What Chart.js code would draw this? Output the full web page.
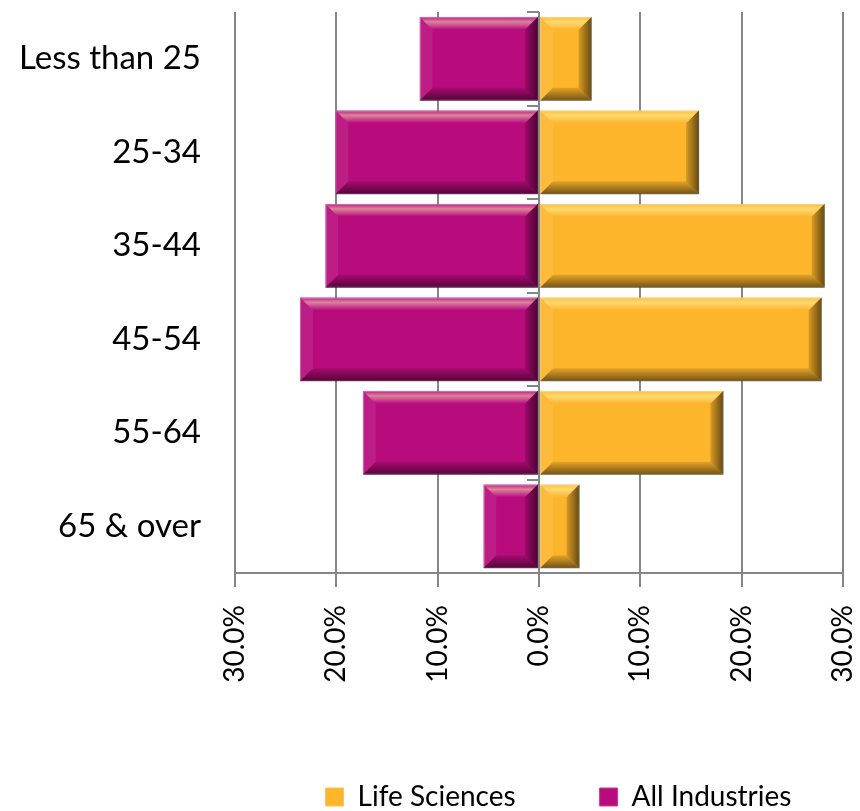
<!DOCTYPE html>
<html>
<head>
<meta charset="utf-8">
<script src="https://cdn.jsdelivr.net/npm/chart.js@4"></script>
<style>
  html, body { margin: 0; padding: 0; background: #fff; }
  #wrap { width: 860px; height: 811px; }
</style>
</head>
<body>
<div id="wrap"><canvas id="myChart" width="860" height="811"></canvas></div>
<script>
const ctx = document.getElementById('myChart');

const ageGroups = ['Less than 25', '25-34', '35-44', '45-54', '55-64', '65 & over'];
const lifeSciences = [5.2, 15.8, 28.2, 27.9, 18.2, 4.0];
const allIndustries = [-11.8, -20.1, -21.1, -23.6, -17.4, -5.5];
const xTicks = [-30, -20, -10, 0, 10, 20, 30];

const FONT = 'Lato, "Liberation Sans", sans-serif';

// fake the excel bevel on each bar
const bevel = {
  id: 'bevel',
  afterDatasetsDraw(chart) {
    const c = chart.ctx;
    chart.data.datasets.forEach((ds, i) => {
      chart.getDatasetMeta(i).data.forEach(bar => {
        const p = bar.getProps(['x', 'y', 'base', 'height'], true);
        const l = Math.min(p.x, p.base), r = Math.max(p.x, p.base);
        const t = p.y - p.height / 2, b = p.y + p.height / 2;
        const d = Math.min(13, (r - l) / 2, p.height / 2);
        const poly = (pts, fill) => {
          c.beginPath();
          c.moveTo(pts[0][0], pts[0][1]);
          pts.slice(1).forEach(q => c.lineTo(q[0], q[1]));
          c.closePath();
          c.fillStyle = fill;
          c.fill();
        };
        c.save();
        let g = c.createLinearGradient(0, t, 0, t + d);
        g.addColorStop(0, 'rgba(255,255,255,0.05)');
        g.addColorStop(0.4, 'rgba(255,255,160,0.5)');
        g.addColorStop(1, 'rgba(255,255,255,0.0)');
        poly([[l, t], [r, t], [r - d, t + d], [l + d, t + d]], g);
        g = c.createLinearGradient(0, b - d, 0, b);
        g.addColorStop(0, 'rgba(0,0,0,0.1)');
        g.addColorStop(1, 'rgba(0,0,0,0.55)');
        poly([[l, b], [r, b], [r - d, b - d], [l + d, b - d]], g);
        g = c.createLinearGradient(r - d, 0, r, 0);
        g.addColorStop(0, 'rgba(0,0,0,0.15)');
        g.addColorStop(1, 'rgba(0,0,0,0.6)');
        poly([[r, t], [r, b], [r - d, b - d], [r - d, t + d]], g);
        poly([[l, t], [l, b], [l + d, b - d], [l + d, t + d]], 'rgba(255,255,255,0.08)');
        c.restore();
      });
    });
  }
};

// little tick marks on the zero line between categories
const zeroTicks = {
  id: 'zeroTicks',
  afterDatasetsDraw(chart) {
    const c = chart.ctx;
    const xs = chart.scales.x, ys = chart.scales.y;
    const x0 = xs.getPixelForValue(0);
    const half = (ys.getPixelForValue(1) - ys.getPixelForValue(0)) / 2;
    c.save();
    c.strokeStyle = '#868686';
    c.lineWidth = 2;
    for (let i = 0; i <= ageGroups.length; i++) {
      const y = Math.round(ys.getPixelForValue(i) - half);
      c.beginPath();
      c.moveTo(x0 - 12, y);
      c.lineTo(x0, y);
      c.stroke();
    }
    c.restore();
  }
};

// push the legend right and down like in the original
const legendShift = {
  id: 'legendShift',
  afterLayout(chart) {
    const lg = chart.legend;
    lg.left += 137;
    lg.right += 137;
    lg.top += 14;
    lg.bottom += 14;
  }
};

const noPad = function(scale) {
  scale.paddingLeft = 0;
  scale.paddingRight = 0;
  scale.paddingTop = 0;
  scale.paddingBottom = 0;
};

new Chart(ctx, {
  type: 'bar',
  data: {
    labels: ageGroups,
    datasets: [{
      label: 'Life Sciences',
      data: lifeSciences,
      backgroundColor: '#FDB52B',
      borderColor: '#F6C45A',
      borderWidth: 1,
      borderSkipped: false
    }, {
      label: 'All Industries',
      data: allIndustries,
      backgroundColor: '#B80B7C',
      borderColor: '#CC3A98',
      borderWidth: 1,
      borderSkipped: false
    }]
  },
  options: {
    indexAxis: 'y',
    responsive: false,
    animation: false,
    datasets: {
      bar: { barPercentage: 0.9, categoryPercentage: 1.0 }
    },
    layout: { padding: { top: 12, right: 17, left: 0, bottom: 4 } },
    scales: {
      x: {
        stacked: true,
        min: -30,
        max: 30,
        afterBuildTicks: function(scale) {
          scale.ticks = xTicks.map(v => ({ value: v }));
        },
        afterFit: function(scale) { noPad(scale); scale.height = 112; },
        grid: { color: '#868686', lineWidth: 2, tickLength: 14 },
        border: { color: '#868686', width: 2 },
        ticks: {
          minRotation: 90,
          maxRotation: 90,
          padding: 18,
          color: '#000',
          font: { family: FONT, size: 28 },
          callback: function(value) {
            return Math.abs(value).toFixed(1) + '%';
          }
        }
      },
      y: {
        stacked: true,
        afterFit: function(scale) { noPad(scale); scale.width = 235; },
        grid: { display: false, drawTicks: false },
        border: { display: false },
        ticks: {
          padding: 34,
          color: '#000',
          font: { family: FONT, size: 33 }
        }
      }
    },
    plugins: {
      legend: {
        position: 'bottom',
        labels: {
          boxWidth: 18,
          boxHeight: 18,
          padding: 84,
          color: '#000',
          font: { family: FONT, size: 28 }
        }
      },
      tooltip: { enabled: false }
    }
  },
  plugins: [bevel, zeroTicks, legendShift]
});
</script>
</body>
</html>
